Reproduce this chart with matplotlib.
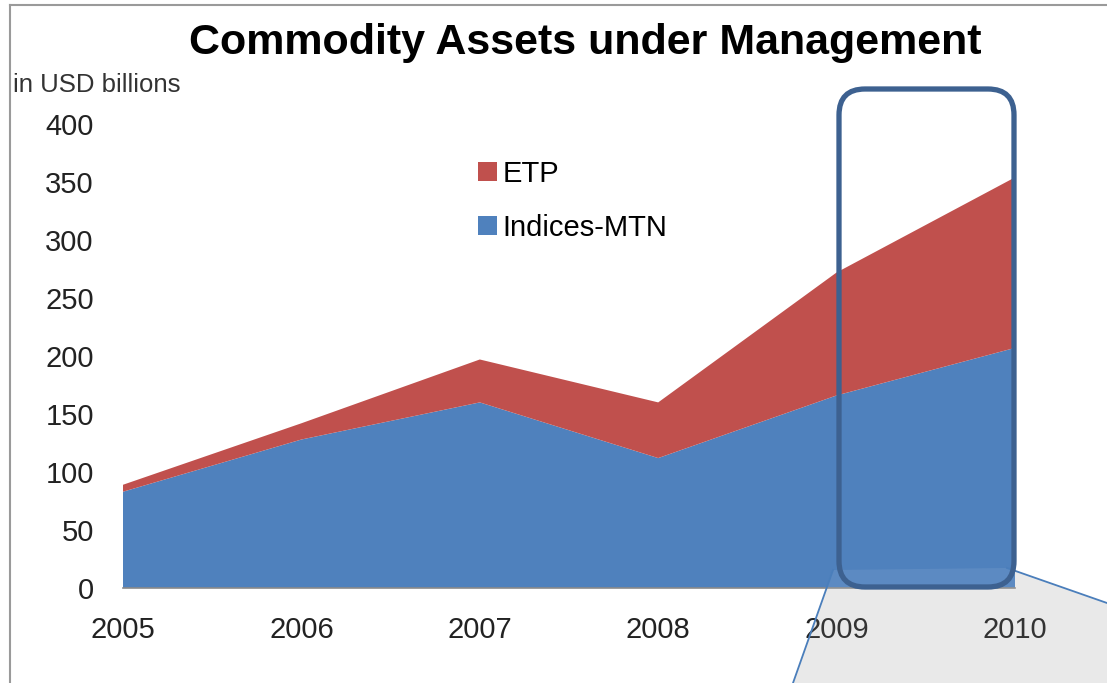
import matplotlib
matplotlib.use("Agg")
from matplotlib import pyplot
from matplotlib.patches import FancyBboxPatch, Polygon, Patch
from matplotlib.lines import Line2D
from matplotlib.transforms import IdentityTransform

# data (USD billions)
years = [2005, 2006, 2007, 2008, 2009, 2010]
indices_mtn = [83, 128, 160, 112, 166, 207]
etp = [6, 14, 37, 48, 106, 147]
yticks = [0, 50, 100, 150, 200, 250, 300, 350, 400]

blue = '#4F81BD'
red = '#C0504D'

pyplot.rcParams['font.family'] = ['Liberation Sans', 'DejaVu Sans']

W, H = 1107, 683
fig = pyplot.figure(figsize=(W / 100, H / 100), dpi=100)
fig.patch.set_facecolor('white')

# grey zoom wedge behind the chart (figure pixels, origin bottom-left)
wedge = [(833, 570), (1007, 568), (1107, 603), (1107, 683), (793, 683)]
wedge = [(x, H - y) for x, y in wedge]
fig.patches.append(Polygon(wedge, closed=True, facecolor='#e8e8e8', edgecolor='none',
                           transform=IdentityTransform(), zorder=0))

ax = fig.add_axes([123 / W, 1 - 588 / H, (1015 - 123) / W, (588 - 124) / H])
ax.set_facecolor('none')
ax.set_zorder(1)

ax.stackplot(years, indices_mtn, etp, colors=[blue, red], linewidth=0)

ax.set_xlim(2005, 2010)
ax.set_ylim(0, 400)
ax.set_xticks(years)
ax.set_yticks(yticks)
ax.tick_params(axis='both', length=0, labelsize=21, colors='#222222')
ax.tick_params(axis='x', pad=20)
ax.tick_params(axis='y', pad=21)
for s in ['top', 'right', 'left']:
    ax.spines[s].set_visible(False)
ax.spines['bottom'].set_color('#8a8a8a')
ax.spines['bottom'].set_linewidth(1.2)

# legend
handles = [Patch(facecolor=red), Patch(facecolor=blue)]
fig.legend(handles, ['ETP', 'Indices-MTN'], loc='upper left',
           bbox_to_anchor=(478 / W, 1 - 160 / H), frameon=False, fontsize=21,
           handlelength=0.65, handleheight=0.65, handletextpad=0.2,
           labelspacing=0.88, borderpad=0, borderaxespad=0)

# titles
fig.text(585 / W, 1 - 43 / H, 'Commodity Assets under Management', ha='center', va='center',
         fontsize=31, fontweight='bold', color='black')
fig.text(13 / W, 1 - 85 / H, 'in USD billions', ha='left', va='center',
         fontsize=18.5, color='#333333')

# overlay: light tint of the wedge and its edge lines
fig.patches.append(Polygon(wedge, closed=True, facecolor='white', alpha=0.08, edgecolor='none',
                           transform=IdentityTransform(), zorder=3))
for (x0, y0), (x1, y1) in [((833, 570), (793, 683)), ((1007, 568), (1107, 603))]:
    fig.lines.append(Line2D([x0, x1], [H - y0, H - y1], color='#4a7ebb', linewidth=1.3,
                            transform=IdentityTransform(), zorder=4))

# rounded highlight box around 2009-2010
box = FancyBboxPatch((839, H - 587), 1014 - 839, 587 - 89,
                     boxstyle='round,pad=0,rounding_size=26',
                     facecolor='none', edgecolor='#3d6190', linewidth=3.8,
                     transform=IdentityTransform(), zorder=5)
fig.patches.append(box)

# outer frame (top and left)
fig.lines.append(Line2D([9.5, 9.5], [0, H - 5], color='#9a9a9a', linewidth=1.5,
                        transform=IdentityTransform(), zorder=6))
fig.lines.append(Line2D([9.5, W], [H - 5, H - 5], color='#9a9a9a', linewidth=1.5,
                        transform=IdentityTransform(), zorder=6))

fig.savefig('out.png', dpi=100, facecolor='white')
